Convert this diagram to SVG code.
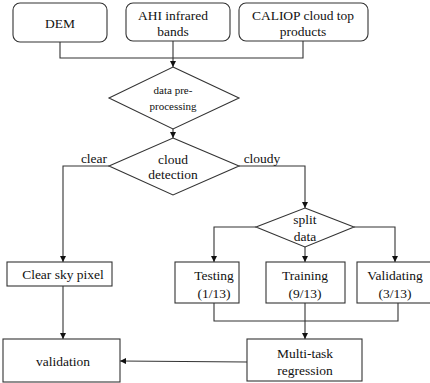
<svg xmlns="http://www.w3.org/2000/svg" width="430" height="383" viewBox="0 0 430 383">
<defs>
<marker id="ah" viewBox="0 0 10 10" refX="10" refY="5" markerWidth="6" markerHeight="6" markerUnits="userSpaceOnUse" orient="auto">
<path d="M0,0 L10,5 L0,10 z" fill="#111"/>
</marker>
</defs>
<style>
.n{fill:#fff;stroke:#333;stroke-width:1.1}
.t{font-family:"Liberation Serif","Times New Roman",serif;font-size:13.5px;fill:#111;text-anchor:middle;dominant-baseline:central}
.s{font-size:11px}
.c{fill:none;stroke:#333;stroke-width:1.1}
</style>
<rect width="430" height="383" fill="#fff"/>
<g id="connectors">
<path class="c" d="M60,42 V58 H303 V41"/>
<path class="c" d="M173,41 V67" marker-end="url(#ah)"/>
<path class="c" d="M173,129 V138" marker-end="url(#ah)"/>
<path class="c" d="M109,166 H63 V262" marker-end="url(#ah)"/>
<path class="c" d="M239,166 H305 V208" marker-end="url(#ah)"/>
<path class="c" d="M256,227 H214 V262" marker-end="url(#ah)"/>
<path class="c" d="M354,227 H395 V262" marker-end="url(#ah)"/>
<path class="c" d="M305,247 V262" marker-end="url(#ah)"/>
<path class="c" d="M214,303 V321 H398 V303"/>
<path class="c" d="M305,303 V339" marker-end="url(#ah)"/>
<path class="c" d="M63,286 V339" marker-end="url(#ah)"/>
<path class="c" d="M247,362 L120,361" marker-end="url(#ah)"/>
<text class="t" x="94" y="158">clear</text>
<text class="t" x="262" y="158">cloudy</text>
</g>
<g id="dem">
<rect class="n" x="13" y="3" width="94" height="39" rx="7"/>
<text class="t" x="60" y="23">DEM</text>
</g>
<g id="ahi">
<rect class="n" x="126" y="3" width="104" height="38" rx="7"/>
<text class="t" x="173" y="15">AHI infrared</text>
<text class="t" x="173" y="31">bands</text>
</g>
<g id="caliop">
<rect class="n" x="239" y="3" width="129" height="38" rx="7"/>
<text class="t" x="303" y="15">CALIOP cloud top</text>
<text class="t" x="303" y="31">products</text>
</g>
<g id="preprocessing">
<polygon class="n" points="173,67 239,98 173,129 109,98"/>
<text class="t s" x="173" y="90">data pre-</text>
<text class="t s" x="173" y="106">processing</text>
</g>
<g id="cloud-detection">
<polygon class="n" points="173,138 239,166 173,195 109,166"/>
<text class="t" x="173" y="159">cloud</text>
<text class="t" x="173" y="174">detection</text>
</g>
<g id="split-data">
<polygon class="n" points="305,208 354,227 305,247 256,227"/>
<text class="t" x="305" y="219">split</text>
<text class="t" x="305" y="236">data</text>
</g>
<g id="clear-sky">
<rect class="n" x="7" y="262" width="105" height="24"/>
<text class="t" x="63" y="274">Clear sky pixel</text>
</g>
<g id="testing">
<rect class="n" x="175" y="262" width="64" height="41"/>
<text class="t" x="214" y="275">Testing</text>
<text class="t" x="214" y="293">(1/13)</text>
</g>
<g id="training">
<rect class="n" x="266" y="262" width="79" height="41"/>
<text class="t" x="305" y="275">Training</text>
<text class="t" x="305" y="293">(9/13)</text>
</g>
<g id="validating">
<rect class="n" x="357" y="262" width="80" height="41"/>
<text class="t" x="395" y="275">Validating</text>
<text class="t" x="395" y="293">(3/13)</text>
</g>
<g id="validation">
<rect class="n" x="3" y="339" width="117" height="43"/>
<text class="t" x="63" y="361">validation</text>
</g>
<g id="multitask">
<rect class="n" x="247" y="339" width="115" height="42"/>
<text class="t" x="305" y="353">Multi-task</text>
<text class="t" x="305" y="370">regression</text>
</g>
</svg>
